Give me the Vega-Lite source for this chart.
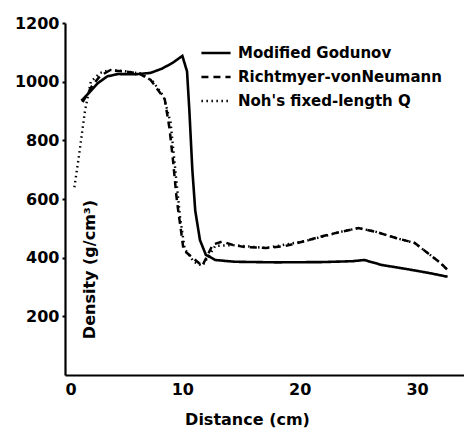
{
  "$schema": "https://vega.github.io/schema/vega-lite/v6.json",
  "autosize": "none",
  "width": 399,
  "height": 352,
  "padding": {"left": 65, "top": 23, "right": 0, "bottom": 60},
  "background": "white",
  "config": {
    "view": {"stroke": null},
    "font": "DejaVu Sans",
    "axis": {"grid": false, "domainColor": "black", "domainWidth": 2.2, "tickColor": "black", "labelColor": "black", "titleColor": "black", "labelFont": "DejaVu Sans", "labelFontWeight": "bold", "titleFont": "DejaVu Sans", "titleFontWeight": "bold"}
  },
  "data": {"values": [
    {"x": 1.4, "y": 935, "method": "Modified Godunov"},
    {"x": 2.0, "y": 960, "method": "Modified Godunov"},
    {"x": 2.8, "y": 995, "method": "Modified Godunov"},
    {"x": 3.6, "y": 1018, "method": "Modified Godunov"},
    {"x": 4.5, "y": 1026, "method": "Modified Godunov"},
    {"x": 6.0, "y": 1025, "method": "Modified Godunov"},
    {"x": 7.3, "y": 1030, "method": "Modified Godunov"},
    {"x": 8.3, "y": 1045, "method": "Modified Godunov"},
    {"x": 9.2, "y": 1065, "method": "Modified Godunov"},
    {"x": 10.0, "y": 1088, "method": "Modified Godunov"},
    {"x": 10.4, "y": 1035, "method": "Modified Godunov"},
    {"x": 10.6, "y": 900, "method": "Modified Godunov"},
    {"x": 10.85, "y": 700, "method": "Modified Godunov"},
    {"x": 11.1, "y": 560, "method": "Modified Godunov"},
    {"x": 11.5, "y": 460, "method": "Modified Godunov"},
    {"x": 12.0, "y": 410, "method": "Modified Godunov"},
    {"x": 12.8, "y": 392, "method": "Modified Godunov"},
    {"x": 14.5, "y": 386, "method": "Modified Godunov"},
    {"x": 18.0, "y": 384, "method": "Modified Godunov"},
    {"x": 22.0, "y": 385, "method": "Modified Godunov"},
    {"x": 24.5, "y": 388, "method": "Modified Godunov"},
    {"x": 25.5, "y": 392, "method": "Modified Godunov"},
    {"x": 27.0, "y": 375, "method": "Modified Godunov"},
    {"x": 29.0, "y": 362, "method": "Modified Godunov"},
    {"x": 31.0, "y": 348, "method": "Modified Godunov"},
    {"x": 32.6, "y": 335, "method": "Modified Godunov"},

    {"x": 1.5, "y": 930, "method": "Richtmyer-vonNeumann"},
    {"x": 2.3, "y": 985, "method": "Richtmyer-vonNeumann"},
    {"x": 3.0, "y": 1020, "method": "Richtmyer-vonNeumann"},
    {"x": 3.8, "y": 1038, "method": "Richtmyer-vonNeumann"},
    {"x": 5.0, "y": 1035, "method": "Richtmyer-vonNeumann"},
    {"x": 6.3, "y": 1028, "method": "Richtmyer-vonNeumann"},
    {"x": 7.3, "y": 1006, "method": "Richtmyer-vonNeumann"},
    {"x": 8.5, "y": 940, "method": "Richtmyer-vonNeumann"},
    {"x": 8.9, "y": 842, "method": "Richtmyer-vonNeumann"},
    {"x": 9.2, "y": 733, "method": "Richtmyer-vonNeumann"},
    {"x": 9.5, "y": 607, "method": "Richtmyer-vonNeumann"},
    {"x": 9.7, "y": 545, "method": "Richtmyer-vonNeumann"},
    {"x": 9.9, "y": 488, "method": "Richtmyer-vonNeumann"},
    {"x": 10.1, "y": 426, "method": "Richtmyer-vonNeumann"},
    {"x": 11.7, "y": 372, "method": "Richtmyer-vonNeumann"},
    {"x": 12.6, "y": 445, "method": "Richtmyer-vonNeumann"},
    {"x": 13.4, "y": 455, "method": "Richtmyer-vonNeumann"},
    {"x": 14.3, "y": 443, "method": "Richtmyer-vonNeumann"},
    {"x": 15.4, "y": 436, "method": "Richtmyer-vonNeumann"},
    {"x": 17.1, "y": 433, "method": "Richtmyer-vonNeumann"},
    {"x": 18.8, "y": 440, "method": "Richtmyer-vonNeumann"},
    {"x": 20.5, "y": 457, "method": "Richtmyer-vonNeumann"},
    {"x": 22.0, "y": 474, "method": "Richtmyer-vonNeumann"},
    {"x": 23.5, "y": 488, "method": "Richtmyer-vonNeumann"},
    {"x": 25.0, "y": 501, "method": "Richtmyer-vonNeumann"},
    {"x": 26.5, "y": 488, "method": "Richtmyer-vonNeumann"},
    {"x": 28.2, "y": 467, "method": "Richtmyer-vonNeumann"},
    {"x": 29.8, "y": 450, "method": "Richtmyer-vonNeumann"},
    {"x": 30.9, "y": 416, "method": "Richtmyer-vonNeumann"},
    {"x": 32.0, "y": 382, "method": "Richtmyer-vonNeumann"},
    {"x": 32.6, "y": 358, "method": "Richtmyer-vonNeumann"},

    {"x": 0.8, "y": 640, "method": "Noh's fixed-length Q"},
    {"x": 1.2, "y": 750, "method": "Noh's fixed-length Q"},
    {"x": 1.7, "y": 900, "method": "Noh's fixed-length Q"},
    {"x": 2.2, "y": 1000, "method": "Noh's fixed-length Q"},
    {"x": 3.0, "y": 1030, "method": "Noh's fixed-length Q"},
    {"x": 3.8, "y": 1040, "method": "Noh's fixed-length Q"},
    {"x": 5.0, "y": 1036, "method": "Noh's fixed-length Q"},
    {"x": 6.5, "y": 1027, "method": "Noh's fixed-length Q"},
    {"x": 7.5, "y": 1000, "method": "Noh's fixed-length Q"},
    {"x": 8.4, "y": 950, "method": "Noh's fixed-length Q"},
    {"x": 9.0, "y": 860, "method": "Noh's fixed-length Q"},
    {"x": 9.4, "y": 700, "method": "Noh's fixed-length Q"},
    {"x": 9.8, "y": 540, "method": "Noh's fixed-length Q"},
    {"x": 10.2, "y": 430, "method": "Noh's fixed-length Q"},
    {"x": 11.0, "y": 385, "method": "Noh's fixed-length Q"},
    {"x": 11.7, "y": 372, "method": "Noh's fixed-length Q"},
    {"x": 12.8, "y": 440, "method": "Noh's fixed-length Q"},
    {"x": 14.3, "y": 443, "method": "Noh's fixed-length Q"},
    {"x": 17.1, "y": 433, "method": "Noh's fixed-length Q"},
    {"x": 20.5, "y": 457, "method": "Noh's fixed-length Q"},
    {"x": 23.5, "y": 488, "method": "Noh's fixed-length Q"},
    {"x": 25.0, "y": 501, "method": "Noh's fixed-length Q"},
    {"x": 26.5, "y": 488, "method": "Noh's fixed-length Q"},
    {"x": 28.2, "y": 467, "method": "Noh's fixed-length Q"},
    {"x": 29.8, "y": 450, "method": "Noh's fixed-length Q"},
    {"x": 30.9, "y": 416, "method": "Noh's fixed-length Q"},
    {"x": 32.0, "y": 382, "method": "Noh's fixed-length Q"},
    {"x": 32.6, "y": 358, "method": "Noh's fixed-length Q"}
  ]},
  "mark": {"type": "line", "color": "black", "clip": true},
  "encoding": {
    "x": {"field": "x", "type": "quantitative",
      "scale": {"domain": [0, 34], "nice": false},
      "axis": {"values": [0, 10, 20, 30], "format": "d", "title": "Distance (cm)", "labelFontSize": 16, "labelPadding": 6, "tickSize": 0, "titleFontSize": 16, "titlePadding": 14, "titleX": 182}},
    "y": {"field": "y", "type": "quantitative",
      "scale": {"domain": [0, 1200], "nice": false},
      "axis": {"values": [200, 400, 600, 800, 1000, 1200], "format": "d", "title": "Density (g/cm³)", "labelFontSize": 16, "labelPadding": 3, "tickSize": 3, "tickWidth": 2, "titleFontSize": 16, "titleAngle": -90, "titleX": 32, "titleY": 246, "titleAlign": "center", "titleBaseline": "bottom"}},
    "strokeDash": {"field": "method", "type": "nominal",
      "scale": {"domain": ["Modified Godunov", "Richtmyer-vonNeumann", "Noh's fixed-length Q"], "range": [[1, 0], [7, 5], [1.5, 3.5]]},
      "legend": {"title": null, "orient": "none", "legendX": 135, "legendY": 14, "symbolType": "stroke", "symbolSize": 850, "symbolStrokeColor": "black", "symbolStrokeWidth": 2.5, "labelFontSize": 15, "labelFont": "DejaVu Sans", "labelFontWeight": "bold", "labelColor": "black", "rowPadding": 0, "labelOffset": 6, "labelLimit": 400}},
    "strokeWidth": {"field": "method", "type": "nominal",
      "scale": {"domain": ["Modified Godunov", "Richtmyer-vonNeumann", "Noh's fixed-length Q"], "range": [2.6, 2.4, 1.6]},
      "legend": null}
  }
}
